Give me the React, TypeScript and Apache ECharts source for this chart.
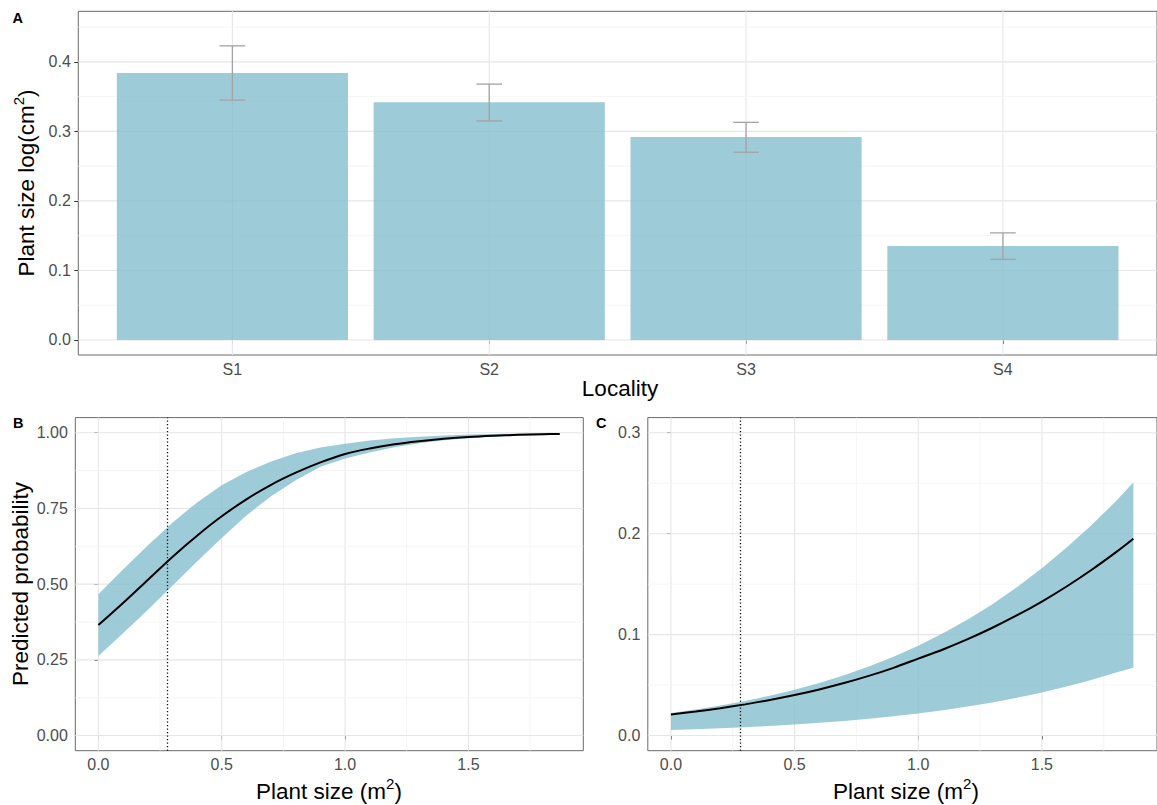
import React, { useEffect, useRef } from 'react';
import * as echarts from 'echarts';

// ---------- Panel A data ----------
const localities = ['S1', 'S2', 'S3', 'S4'];
const meanSize = [0.384, 0.342, 0.292, 0.135];
const errLow = [0.345, 0.315, 0.270, 0.116];
const errHigh = [0.423, 0.368, 0.313, 0.154];
const aYTicks = [0, 0.1, 0.2, 0.3, 0.4];
const aYMinor = [0.05, 0.15, 0.25, 0.35, 0.45];
const aXTicks = [1, 2, 3, 4];

// ---------- Panels B & C data ----------
const sizeX = [0, 0.1, 0.2, 0.3, 0.4, 0.5, 0.6, 0.7, 0.8, 0.9, 1.0, 1.1, 1.2, 1.3, 1.4, 1.5, 1.6, 1.7, 1.8, 1.87];
const bMean = [0.365, 0.438, 0.514, 0.590, 0.660, 0.724, 0.780, 0.828, 0.868, 0.902, 0.930, 0.948, 0.962, 0.972, 0.980, 0.986, 0.990, 0.993, 0.995, 0.996];
const bHigh = [0.467, 0.548, 0.628, 0.703, 0.770, 0.827, 0.870, 0.905, 0.932, 0.951, 0.964, 0.974, 0.982, 0.987, 0.991, 0.994, 0.996, 0.997, 0.998, 0.998];
const bLow = [0.263, 0.338, 0.415, 0.495, 0.575, 0.652, 0.727, 0.790, 0.843, 0.888, 0.915, 0.935, 0.952, 0.965, 0.975, 0.982, 0.987, 0.990, 0.992, 0.993];
const cMean = [0.0208, 0.0238, 0.0271, 0.0309, 0.0352, 0.0401, 0.0457, 0.0520, 0.0591, 0.0671, 0.0762, 0.0853, 0.0955, 0.1068, 0.1192, 0.1328, 0.1477, 0.1640, 0.1817, 0.1950];
const cHigh = [0.0224, 0.0259, 0.0298, 0.0343, 0.0395, 0.0454, 0.0521, 0.0597, 0.0683, 0.0781, 0.0890, 0.1013, 0.1150, 0.1302, 0.1472, 0.1658, 0.1862, 0.2083, 0.2323, 0.2510];
const cLow = [0.0054, 0.0062, 0.0072, 0.0083, 0.0095, 0.0110, 0.0126, 0.0145, 0.0166, 0.0191, 0.0219, 0.0251, 0.0287, 0.0327, 0.0374, 0.0426, 0.0485, 0.0551, 0.0625, 0.0672];
const threshold = 0.285;
const sizeTicks = [0, 0.5, 1, 1.5];
const sizeMinor = [0.25, 0.75, 1.25, 1.75];
const bYTicks = [0, 0.25, 0.5, 0.75, 1];
const bYMinor = [0.125, 0.375, 0.625, 0.875];
const cYTicks = [0, 0.1, 0.2, 0.3];
const cYMinor = [0.05, 0.15, 0.25];

const FONT = "'Liberation Sans', Arial, Helvetica, sans-serif";
const FILL = 'rgba(134,190,206,0.8)';
const LABEL_COLOR = '#4d4d4d';
const TICK_COLOR = '#333333';

function gridLines(gi: number, xMajor: number[], xMinor: number[], yMajor: number[], yMinor: number[], xRef: number, yRef: number) {
  const data: number[][] = [];
  xMajor.forEach((v) => data.push([0, v]));
  xMinor.forEach((v) => data.push([1, v]));
  yMajor.forEach((v) => data.push([2, v]));
  yMinor.forEach((v) => data.push([3, v]));
  return {
    type: 'custom',
    xAxisIndex: gi,
    yAxisIndex: gi,
    silent: true,
    z: 1,
    data,
    renderItem: (params: any, api: any) => {
      const kind = api.value(0);
      const v = api.value(1);
      const cs = params.coordSys;
      const major = kind === 0 || kind === 2;
      const style = { stroke: major ? '#e6e6e6' : '#f2f2f2', lineWidth: major ? 1.1 : 0.8 };
      if (kind < 2) {
        const px = api.coord([v, yRef])[0];
        return { type: 'line', shape: { x1: px, y1: cs.y, x2: px, y2: cs.y + cs.height }, style };
      }
      const py = api.coord([xRef, v])[1];
      return { type: 'line', shape: { x1: cs.x, y1: py, x2: cs.x + cs.width, y2: py }, style };
    },
  };
}

function ribbon(gi: number, low: number[], high: number[]) {
  return {
    type: 'custom',
    xAxisIndex: gi,
    yAxisIndex: gi,
    silent: true,
    z: 2,
    data: sizeX.map((x, i) => [x, low[i], high[i]]),
    encode: { x: 0, y: [1, 2] },
    renderItem: (params: any, api: any) => {
      if (params.dataIndex !== 0) return { type: 'group', children: [] };
      const pts: number[][] = [];
      for (let i = 0; i < sizeX.length; i++) pts.push(api.coord([sizeX[i], high[i]]));
      for (let i = sizeX.length - 1; i >= 0; i--) pts.push(api.coord([sizeX[i], low[i]]));
      return { type: 'polygon', shape: { points: pts }, style: { fill: FILL } };
    },
  };
}

function meanLine(gi: number, mean: number[]) {
  return {
    type: 'line',
    xAxisIndex: gi,
    yAxisIndex: gi,
    z: 4,
    data: sizeX.map((x, i) => [x, mean[i]]),
    showSymbol: false,
    smooth: 0.3,
    silent: true,
    lineStyle: { color: '#000', width: 2 },
    markLine: {
      silent: true,
      symbol: ['none', 'none'],
      label: { show: false },
      lineStyle: { color: '#111', width: 1.3, type: [1.3, 2.2] },
      data: [{ xAxis: threshold }],
    },
  };
}

function valueAxis(gi: number, min: number, max: number, ticks: number[], digits: number, isX: boolean, fmt?: (v: number) => string) {
  return {
    type: 'value',
    gridIndex: gi,
    min,
    max,
    axisLine: { show: false },
    axisTick: { show: true, length: 4, customValues: ticks, lineStyle: { color: TICK_COLOR, width: 1 } },
    axisLabel: {
      customValues: ticks,
      formatter: fmt || ((v: number) => v.toFixed(digits)),
      color: LABEL_COLOR,
      fontSize: 16,
      fontFamily: FONT,
      margin: isX ? 6 : 7.5,
    },
    splitLine: { show: false },
    minorSplitLine: { show: false },
  };
}

const titleRich = {
  a: { fontSize: 22.5, lineHeight: 30, fontFamily: FONT, fill: '#000' },
  s: { fontSize: 15, lineHeight: 15, verticalAlign: 'top', fontFamily: FONT, fill: '#000' },
};

function titleText(x: number, y: number, text: string, rotate: boolean) {
  return {
    type: 'text',
    x,
    y,
    rotation: rotate ? Math.PI / 2 : 0,
    silent: true,
    style: {
      text,
      rich: titleRich,
      fill: '#000',
      fontSize: 22.5,
      fontFamily: FONT,
      align: 'center',
      verticalAlign: 'middle',
      textAlign: 'center',
      textVerticalAlign: 'middle',
    },
  };
}

function tagText(x: number, y: number, text: string) {
  return {
    type: 'text',
    x,
    y,
    silent: true,
    style: {
      text,
      fill: '#000',
      fontSize: 14.5,
      fontWeight: 'bold',
      fontFamily: FONT,
      align: 'left',
      verticalAlign: 'middle',
      textAlign: 'left',
      textVerticalAlign: 'middle',
    },
  };
}

export default function App() {
  const ref = useRef<HTMLDivElement>(null);

  useEffect(() => {
    if (!ref.current) return;
    const chart = echarts.init(ref.current, undefined, { renderer: 'svg' });
    const frame = { show: true, borderColor: '#6a6a6a', borderWidth: 1, backgroundColor: 'transparent' };

    const option: any = {
      animation: false,
      backgroundColor: '#ffffff',
      grid: [
        { left: 78.3, top: 11.3, width: 1085, height: 343.7, ...frame },
        { left: 75.3, top: 417.6, width: 508, height: 333.1, ...frame },
        { left: 647.8, top: 417.6, width: 517, height: 333.1, ...frame },
      ],
      xAxis: [
        valueAxis(0, 0.4, 4.6, aXTicks, 0, true, (v: number) => localities[Math.round(v) - 1]),
        valueAxis(1, -0.0935, 1.9655, sizeTicks, 1, true),
        valueAxis(2, -0.0935, 1.9655, sizeTicks, 1, true),
      ],
      yAxis: [
        valueAxis(0, -0.0216, 0.4727, aYTicks, 1, false),
        valueAxis(1, -0.05, 1.05, bYTicks, 2, false),
        valueAxis(2, -0.015, 0.315, cYTicks, 1, false),
      ],
      series: [
        gridLines(0, aXTicks, [], aYTicks, aYMinor, 1, 0),
        gridLines(1, sizeTicks, sizeMinor, bYTicks, bYMinor, 0, 0),
        gridLines(2, sizeTicks, sizeMinor, cYTicks, cYMinor, 0, 0),
        {
          type: 'custom',
          name: 'Plant size',
          xAxisIndex: 0,
          yAxisIndex: 0,
          z: 2,
          silent: true,
          data: meanSize.map((v, i) => [i + 1, v]),
          encode: { x: 0, y: 1 },
          renderItem: (params: any, api: any) => {
            const x = api.value(0);
            const y = api.value(1);
            const p0 = api.coord([x - 0.45, y]);
            const p1 = api.coord([x + 0.45, 0]);
            return {
              type: 'rect',
              shape: { x: p0[0], y: p0[1], width: p1[0] - p0[0], height: p1[1] - p0[1] },
              style: { fill: FILL },
            };
          },
        },
        {
          type: 'custom',
          name: 'Error',
          xAxisIndex: 0,
          yAxisIndex: 0,
          z: 3,
          silent: true,
          data: meanSize.map((_, i) => [i + 1, errLow[i], errHigh[i]]),
          encode: { x: 0, y: [1, 2] },
          renderItem: (params: any, api: any) => {
            const x = api.value(0);
            const lo = api.coord([x, api.value(1)]);
            const hi = api.coord([x, api.value(2)]);
            const l = api.coord([x - 0.05, 0])[0];
            const r = api.coord([x + 0.05, 0])[0];
            const style = { stroke: '#a3a3a3', lineWidth: 1.3 };
            return {
              type: 'group',
              children: [
                { type: 'line', shape: { x1: lo[0], y1: lo[1], x2: hi[0], y2: hi[1] }, style },
                { type: 'line', shape: { x1: l, y1: lo[1], x2: r, y2: lo[1] }, style },
                { type: 'line', shape: { x1: l, y1: hi[1], x2: r, y2: hi[1] }, style },
              ],
            };
          },
        },
        ribbon(1, bLow, bHigh),
        meanLine(1, bMean),
        ribbon(2, cLow, cHigh),
        meanLine(2, cMean),
      ],
      graphic: [
        tagText(12.5, 17.5, 'A'),
        tagText(13, 423, 'B'),
        tagText(596, 423, 'C'),
        titleText(26, 183, '{a|Plant size log(cm}{s|2}{a|)}', true),
        titleText(620, 388, '{a|Locality}', false),
        titleText(20, 584, '{a|Predicted probability}', true),
        titleText(329, 791, '{a|Plant size (m}{s|2}{a|)}', false),
        titleText(906, 791, '{a|Plant size (m}{s|2}{a|)}', false),
      ],
    };

    chart.setOption(option);
    return () => {
      chart.dispose();
    };
  }, []);

  return (
    <div
      ref={ref}
      style={{ position: 'fixed', left: 0, top: 0, width: 1157, height: 805, background: '#fff' }}
    />
  );
}
